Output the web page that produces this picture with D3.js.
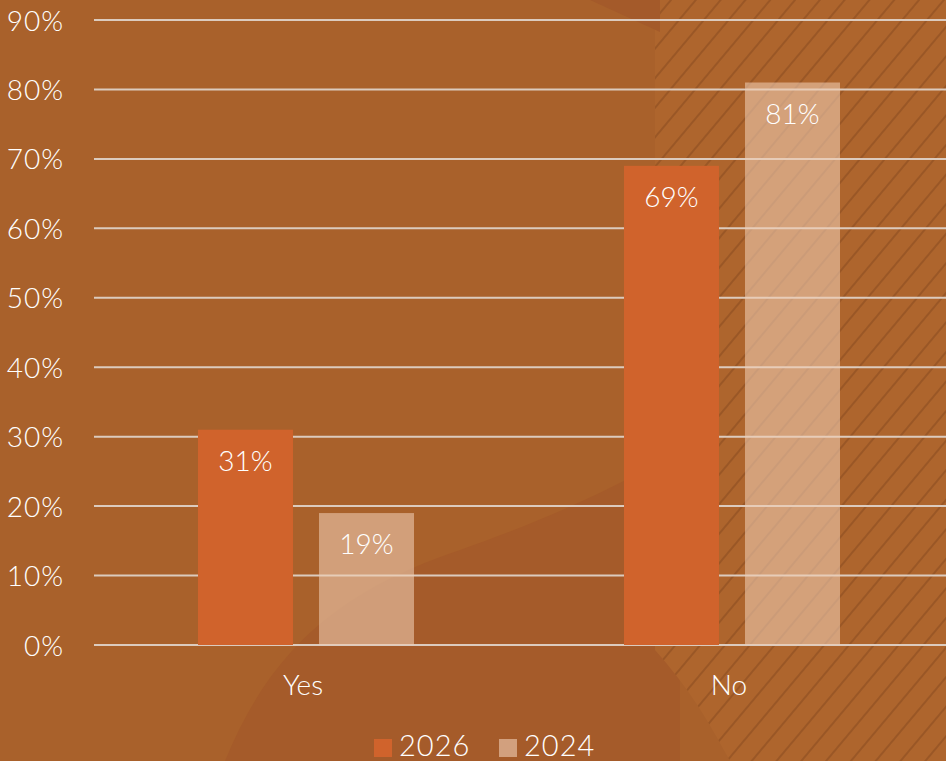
<!DOCTYPE html>
<html><head><meta charset="utf-8">
<script src="https://cdn.jsdelivr.net/npm/d3@7"></script>
<style>html,body{margin:0;padding:0;background:#A9612B;}svg{display:block;}</style>
</head><body>
<script>
const categories = ["Yes", "No"];
const seriesNames = ["2026", "2024"];
const values2026 = [0.31, 0.69];
const values2024 = [0.19, 0.81];
const yTicks = [0, 0.1, 0.2, 0.3, 0.4, 0.5, 0.6, 0.7, 0.8, 0.9];

const W = 946, H = 761;
const FONT = "Lato, 'Open Sans', sans-serif";
const colors = {"2026": "#D0632C", "2024": "rgba(240,205,180,0.58)"};
const legendColors = {"2026": "#D0632C", "2024": "#D2A07E"};

const svg = d3.select("body").append("svg").attr("width", W).attr("height", H);

// background
svg.append("rect").attr("width", W).attr("height", H).attr("fill", "#A9612B");
const defs = svg.append("defs");
const pat = defs.append("pattern").attr("id", "hatch").attr("patternUnits", "userSpaceOnUse")
  .attr("width", 19).attr("height", 19).attr("patternTransform", "rotate(40)");
pat.append("rect").attr("width", 19).attr("height", 19).attr("fill", "#AE652D");
pat.append("line").attr("x1", 1).attr("y1", 0).attr("x2", 1).attr("y2", 19)
  .attr("stroke", "#8A4A20").attr("stroke-width", 2).attr("stroke-opacity", 0.55);
// darker curved region
svg.append("path")
  .attr("d", "M225,761 C270,650 340,590 460,550 C560,515 630,480 680,450 L680,761 Z")
  .attr("fill", "#A55B2A");
// hatched region
svg.append("path")
  .attr("d", "M655,0 L946,0 L946,761 L730,761 C705,715 690,690 655,650 Z")
  .attr("fill", "url(#hatch)");
// top darker triangle
svg.append("path").attr("d", "M590,0 L660,0 L660,32 Z").attr("fill", "#A45A2A");

const y = d3.scaleLinear().domain([0, 0.9]).range([645, 20]);
const x0 = d3.scaleBand().domain(categories).range([94, 946]).paddingInner(0).paddingOuter(0);
const x1 = d3.scaleBand().domain(seriesNames).range([0, 216]).paddingInner(0.215);

// gridlines
const yAxis = d3.axisLeft(y).tickValues(yTicks).tickFormat(d3.format(".0%")).tickSize(0).tickPadding(0);
const gGrid = svg.append("g");
gGrid.selectAll("line").data(yTicks).join("line")
  .attr("x1", 94).attr("x2", 946).attr("y1", d => y(d)).attr("y2", d => y(d))
  .attr("stroke", "#DCCBBE").attr("stroke-width", 2);

const gy = svg.append("g").attr("transform", "translate(64,0)").call(yAxis);
gy.select(".domain").remove();
gy.selectAll("text").attr("fill", "#fff").attr("font-family", FONT).attr("font-weight", 300)
  .attr("font-size", 28).attr("letter-spacing", 1).attr("dy", "0.36em");

// bars
const data = categories.map((c, i) => ({cat: c, vals: [{s: "2026", v: values2026[i]}, {s: "2024", v: values2024[i]}]}));
const groups = svg.append("g").selectAll("g").data(data).join("g")
  .attr("transform", d => `translate(${x0(d.cat) + x0.bandwidth() / 2 - 109},0)`);
groups.selectAll("rect").data(d => d.vals).join("rect")
  .attr("x", d => x1(d.s)).attr("width", x1.bandwidth())
  .attr("y", d => y(d.v)).attr("height", d => y(0) - y(d.v))
  .attr("fill", d => colors[d.s]);
groups.selectAll("text").data(d => d.vals).join("text")
  .attr("x", d => x1(d.s) + x1.bandwidth() / 2).attr("y", d => y(d.v) + 31)
  .attr("dy", "0.36em").attr("text-anchor", "middle")
  .attr("fill", "#fff").attr("font-family", FONT).attr("font-weight", 300).attr("font-size", 28)
  .text(d => d3.format(".0%")(d.v));

// x axis labels
const xAxis = d3.axisBottom(x0).tickSize(0).tickPadding(0);
const gx = svg.append("g").attr("transform", "translate(-4,685)").call(xAxis);
gx.select(".domain").remove();
gx.selectAll("text").attr("fill", "#fff").attr("font-family", FONT).attr("font-weight", 300)
  .attr("font-size", 28).attr("dy", "0.36em");

// legend
const legend = svg.append("g");
const lx = [374, 499];
seriesNames.forEach((s, i) => {
  legend.append("rect").attr("x", lx[i]).attr("y", 739).attr("width", 18).attr("height", 18).attr("fill", legendColors[s]);
  legend.append("text").attr("x", lx[i] + 25).attr("y", 756).attr("fill", "#fff")
    .attr("font-family", FONT).attr("font-weight", 300).attr("font-size", 29).attr("letter-spacing", 1).text(s);
});
</script>
</body></html>
